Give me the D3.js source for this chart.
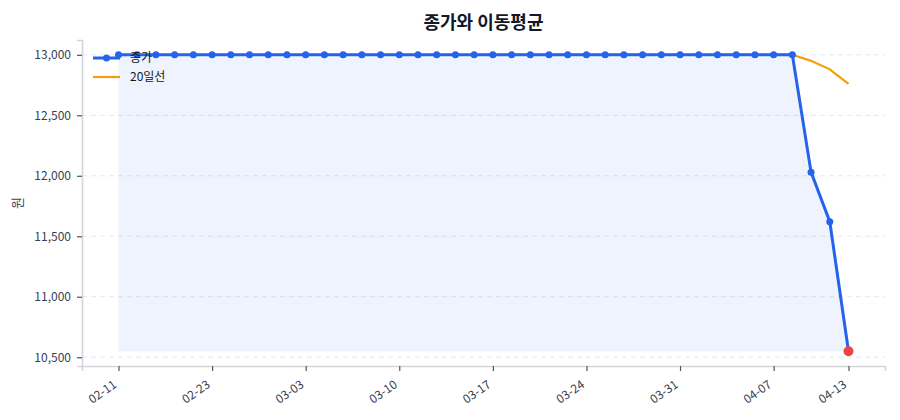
<!DOCTYPE html>
<html>
<head>
<meta charset="utf-8">
<script src="https://cdn.jsdelivr.net/npm/d3@7"></script>
<style>
  body { margin: 0; background: #fff; }
  text { font-family: "Noto Sans CJK KR", "Noto Sans", sans-serif; }
</style>
</head>
<body>
<div id="chart"></div>
<script>
// trading days (index based x axis)
var dates = ["02-11","02-12","02-13","02-19","02-20","02-23","02-24","02-25","02-26","02-27",
  "03-03","03-04","03-05","03-06","03-09","03-10","03-11","03-12","03-13","03-16",
  "03-17","03-18","03-19","03-20","03-23","03-24","03-25","03-26","03-27","03-30",
  "03-31","04-01","04-02","04-03","04-06","04-07","04-08","04-09","04-10","04-13"];
var close = [13000,13000,13000,13000,13000,13000,13000,13000,13000,13000,
  13000,13000,13000,13000,13000,13000,13000,13000,13000,13000,
  13000,13000,13000,13000,13000,13000,13000,13000,13000,13000,
  13000,13000,13000,13000,13000,13000,13000,12030,11620,10550];
// 20일선, only where the window is full
var ma20 = [null,null,null,null,null,null,null,null,null,null,
  null,null,null,null,null,null,null,null,null,13000,
  13000,13000,13000,13000,13000,13000,13000,13000,13000,13000,
  13000,13000,13000,13000,13000,13000,13000,12950,12880,12760];
var tickIdx = [0,5,10,15,20,25,30,35,39];
var yTicks = [10500,11000,11500,12000,12500,13000];

var width = 900, height = 420;
var margin = {top: 40, right: 15, bottom: 54, left: 82};
var w = width - margin.left - margin.right;
var h = height - margin.top - margin.bottom;

var svg = d3.select("#chart").append("svg")
    .attr("width", width)
    .attr("height", height);

var g = svg.append("g")
    .attr("transform", "translate(" + margin.left + "," + margin.top + ")");

var n = close.length;
var pad = (n - 1) * 0.05;
var x = d3.scaleLinear().domain([-pad, n - 1 + pad]).range([0, w]);
var yMin = d3.min(close), yMax = d3.max(close);
var ypad = (yMax - yMin) * 0.05;
var y = d3.scaleLinear().domain([yMin - ypad, yMax + ypad]).range([h, 0]);

// grid
g.append("g").selectAll("line").data(yTicks).enter().append("line")
    .attr("x1", 0).attr("x2", w)
    .attr("y1", function(d){ return y(d); })
    .attr("y2", function(d){ return y(d); })
    .attr("stroke", "#e5e7eb")
    .attr("stroke-dasharray", "5,4")
    .attr("stroke-width", 1);

// area under close
var area = d3.area()
    .x(function(d, i){ return x(i); })
    .y0(y(yMin))
    .y1(function(d){ return y(d); });
g.append("path").datum(close)
    .attr("d", area)
    .attr("fill", "#2563eb")
    .attr("fill-opacity", 0.08);

// ma20
var maLine = d3.line()
    .defined(function(d){ return d != null; })
    .x(function(d, i){ return x(i); })
    .y(function(d){ return y(d); });
g.append("path").datum(ma20)
    .attr("d", maLine)
    .attr("fill", "none")
    .attr("stroke", "#f59e0b")
    .attr("stroke-width", 2.2);

// close line
var line = d3.line()
    .x(function(d, i){ return x(i); })
    .y(function(d){ return y(d); });
g.append("path").datum(close)
    .attr("d", line)
    .attr("fill", "none")
    .attr("stroke", "#2563eb")
    .attr("stroke-width", 3);

g.append("g").selectAll("circle").data(close.slice(0, n - 1)).enter().append("circle")
    .attr("cx", function(d, i){ return x(i); })
    .attr("cy", function(d){ return y(d); })
    .attr("r", 3.5)
    .attr("fill", "#2563eb");

// last point highlighted
g.append("circle")
    .attr("cx", x(n - 1))
    .attr("cy", y(close[n - 1]))
    .attr("r", 5)
    .attr("fill", "#ef4444");

// axes
var yAxis = g.append("g")
    .call(d3.axisLeft(y).tickValues(yTicks).tickFormat(d3.format(",")).tickSize(5).tickPadding(6));
var xAxis = g.append("g")
    .attr("transform", "translate(0," + h + ")")
    .call(d3.axisBottom(x).tickValues(tickIdx).tickFormat(function(i){ return dates[i]; }).tickSize(5).tickPadding(4));

[xAxis, yAxis].forEach(function(a){
    a.select(".domain").attr("stroke", "#d1d5db").attr("stroke-width", 1.6);
    a.selectAll(".tick line").attr("stroke", "#4b5563").attr("stroke-width", 1.2);
    a.selectAll("text").attr("fill", "#374151").style("font-size", "12px");
});
xAxis.selectAll("text")
    .style("font-size", "12px")
    .attr("text-anchor", "end")
    .attr("x", 0)
    .attr("y", 0)
    .attr("dy", "0.35em")
    .attr("transform", "translate(-4,17) rotate(-35)");

// titles
svg.append("text")
    .attr("x", margin.left + w / 2)
    .attr("y", 29)
    .attr("text-anchor", "middle")
    .style("font-size", "18px")
    .style("font-weight", "bold")
    .attr("fill", "#111827")
    .text("종가와 이동평균");

svg.append("text")
    .attr("transform", "translate(22," + (margin.top + h / 2) + ") rotate(-90)")
    .attr("text-anchor", "middle")
    .style("font-size", "13px")
    .attr("fill", "#374151")
    .text("원");

// legend
var legend = g.append("g").attr("transform", "translate(11,18)");
var items = [{label: "종가", color: "#2563eb", width: 3, marker: true},
             {label: "20일선", color: "#f59e0b", width: 2.2, marker: false}];
items.forEach(function(d, i){
    var row = legend.append("g").attr("transform", "translate(0," + (i * 19) + ")");
    row.append("line")
        .attr("x1", 0).attr("x2", 27)
        .attr("stroke", d.color)
        .attr("stroke-width", d.width);
    if (d.marker) {
        row.append("circle").attr("cx", 13.5).attr("r", 3.5).attr("fill", d.color);
    }
    row.append("text")
        .attr("x", 37)
        .attr("dy", "0.35em")
        .style("font-size", "12px")
        .attr("fill", "#111827")
        .text(d.label);
});
</script>
</body>
</html>
